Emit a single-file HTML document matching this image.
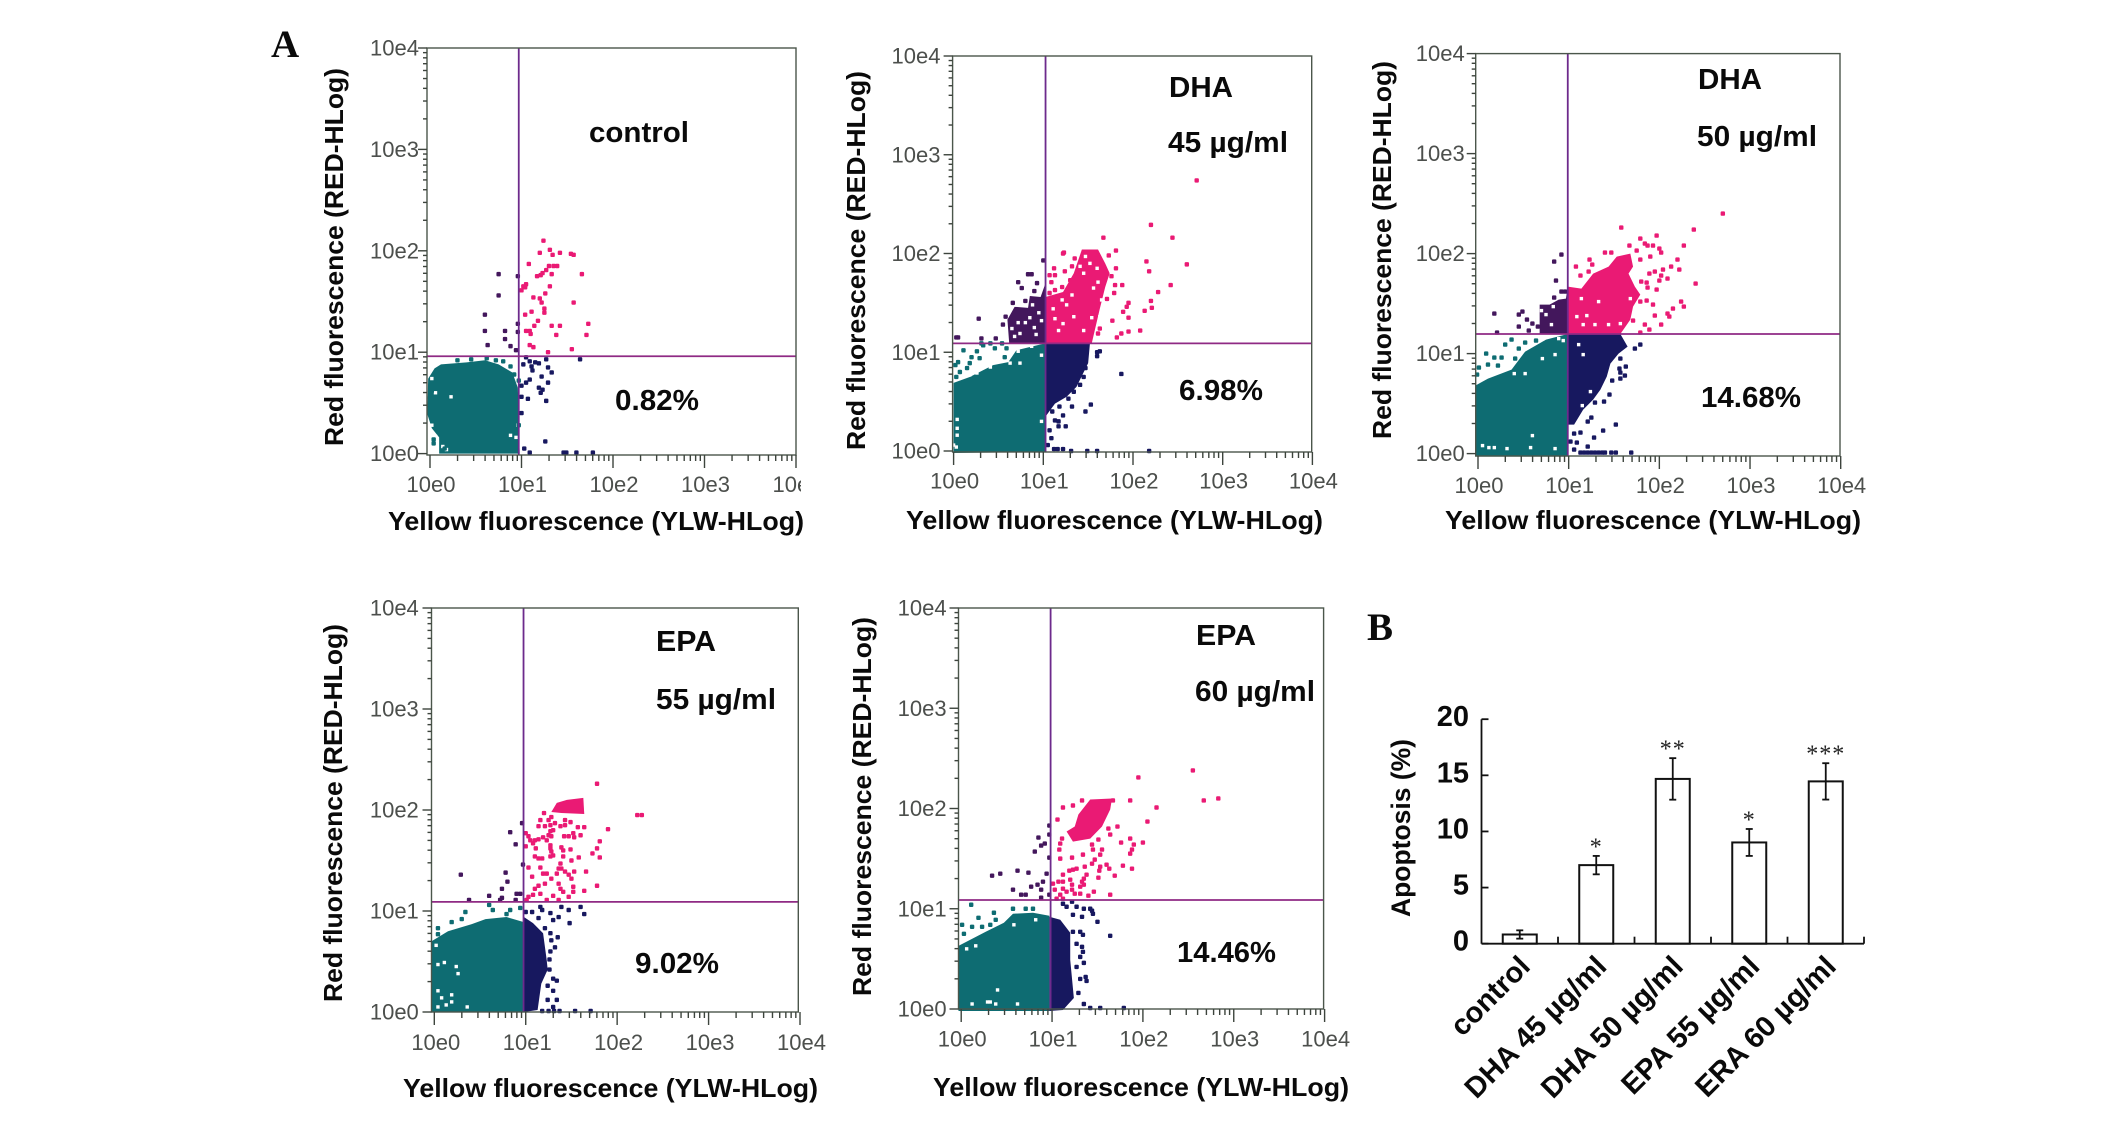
<!DOCTYPE html>
<html lang="en">
<head>
<meta charset="utf-8">
<title>Apoptosis flow cytometry panels</title>
<style>
html,body{margin:0;padding:0;background:#fff;}
svg{display:block;}
text{font-family:"Liberation Sans",sans-serif;}
.title{font-weight:700;fill:#0a0a0a;}
.note{font-weight:700;font-size:29px;fill:#0a0a0a;}
.panel-letter{font-family:"Liberation Serif",serif;font-weight:700;font-size:39px;fill:#0a0a0a;}
.tick{font-size:22px;fill:#4c4f4c;}
.barval{font-weight:700;font-size:29px;fill:#0a0a0a;}
</style>
</head>
<body>
<svg id="figure" xmlns="http://www.w3.org/2000/svg" width="2126" height="1131" viewBox="0 0 2126 1131">
<rect width="2126" height="1131" fill="#fff"/>
<defs><clipPath id="clip-p1-xlabels"><rect x="0" y="0" width="801" height="1131"/></clipPath></defs>
<text class="panel-letter" x="271" y="57">A</text>
<text class="panel-letter" x="1367" y="640">B</text>

<g id="p1"></g>
<text class="title" font-size="26" transform="translate(343,446) rotate(-90)" textLength="378" lengthAdjust="spacingAndGlyphs">Red fluorescence (RED-HLog)</text>
<text class="title" font-size="26" x="388" y="530" textLength="416" lengthAdjust="spacingAndGlyphs">Yellow fluorescence (YLW-HLog)</text>
<text class="note" x="589" y="142" textLength="100" lengthAdjust="spacingAndGlyphs">control</text>
<text class="note" x="615" y="410" textLength="84" lengthAdjust="spacingAndGlyphs">0.82%</text>

<g id="p2"></g>
<text class="title" font-size="26" transform="translate(865,450) rotate(-90)" textLength="379" lengthAdjust="spacingAndGlyphs">Red fluorescence (RED-HLog)</text>
<text class="title" font-size="26" x="906" y="529" textLength="417" lengthAdjust="spacingAndGlyphs">Yellow fluorescence (YLW-HLog)</text>
<text class="note" x="1169" y="97" textLength="64" lengthAdjust="spacingAndGlyphs">DHA</text>
<text class="note" x="1168" y="152" textLength="120" lengthAdjust="spacingAndGlyphs">45 µg/ml</text>
<text class="note" x="1179" y="400" textLength="84" lengthAdjust="spacingAndGlyphs">6.98%</text>

<g id="p3"></g>
<text class="title" font-size="26" transform="translate(1391,439) rotate(-90)" textLength="378" lengthAdjust="spacingAndGlyphs">Red fluorescence (RED-HLog)</text>
<text class="title" font-size="26" x="1445" y="529" textLength="416" lengthAdjust="spacingAndGlyphs">Yellow fluorescence (YLW-HLog)</text>
<text class="note" x="1698" y="89" textLength="64" lengthAdjust="spacingAndGlyphs">DHA</text>
<text class="note" x="1697" y="146" textLength="120" lengthAdjust="spacingAndGlyphs">50 µg/ml</text>
<text class="note" x="1701" y="407" textLength="100" lengthAdjust="spacingAndGlyphs">14.68%</text>

<g id="p4"></g>
<text class="title" font-size="26" transform="translate(342,1002) rotate(-90)" textLength="378" lengthAdjust="spacingAndGlyphs">Red fluorescence (RED-HLog)</text>
<text class="title" font-size="26" x="403" y="1097" textLength="415" lengthAdjust="spacingAndGlyphs">Yellow fluorescence (YLW-HLog)</text>
<text class="note" x="656" y="651" textLength="60" lengthAdjust="spacingAndGlyphs">EPA</text>
<text class="note" x="656" y="709" textLength="120" lengthAdjust="spacingAndGlyphs">55 µg/ml</text>
<text class="note" x="635" y="973" textLength="84" lengthAdjust="spacingAndGlyphs">9.02%</text>

<g id="p5"></g>
<text class="title" font-size="26" transform="translate(871,996) rotate(-90)" textLength="379" lengthAdjust="spacingAndGlyphs">Red fluorescence (RED-HLog)</text>
<text class="title" font-size="26" x="933" y="1096" textLength="416" lengthAdjust="spacingAndGlyphs">Yellow fluorescence (YLW-HLog)</text>
<text class="note" x="1196" y="645" textLength="60" lengthAdjust="spacingAndGlyphs">EPA</text>
<text class="note" x="1195" y="701" textLength="120" lengthAdjust="spacingAndGlyphs">60 µg/ml</text>
<text class="note" x="1177" y="962" textLength="99" lengthAdjust="spacingAndGlyphs">14.46%</text>

<g id="bars"></g>
<text class="title" font-size="27" transform="translate(1410,917) rotate(-90)" textLength="178" lengthAdjust="spacingAndGlyphs">Apoptosis (%)</text>

<script>
/* Shared flow-cytometry axis labels (values are log10 decades) */
const decades = [0, 1, 2, 3, 4];
const tickLabels = ['10e0', '10e1', '10e2', '10e3', '10e4'];
const minorMultiples = [2, 3, 4, 5, 6, 7, 8, 9];

/* Panel 1: control. Every coordinate is [log10 yellow, log10 red] */
const p1Gate = [0.97, 0.96];
const p1TealOutline = [[0.10,0],[0.10,0.16],[0.02,0.25],[-0.03,0.39],[-0.02,0.74],[0.05,0.84],[0.12,0.88],[0.40,0.90],[0.60,0.92],[0.75,0.88],[0.90,0.80],[0.96,0.65],[0.98,0]];
const p1TealGaps = [[0.23,0.56],[0.06,0.60],[0.02,0.28],[0.06,0.17],[0.18,0.04],[0.14,0.07],[0.88,0.18],[0.94,0.16],[0.02,0.74],[0.96,0.28]];
const p1TealPoints = [[0.04,0.10],[0.02,0.62],[0.30,0.92],[0.45,0.93],[0.62,0.94],[0.72,0.92],[0.80,0.91],[0.88,0.86],[0.92,0.78],[0.97,0.72],[0.97,0.28],[0.04,0.14],[0.0,0.55],[0.16,0.05]];
const p1NavyPoints = [[1.05,0.95],[1.09,0.91],[1.15,0.90],[1.11,0.86],[1.19,0.89],[1.27,0.93],[1.64,0.93],[1.29,0.85],[1.33,0.80],[1.09,0.73],[1.22,0.76],[1.29,0.70],[1.05,0.70],[1.0,0.67],[1.19,0.65],[1.23,0.63],[1.21,0.60],[1.0,0.56],[1.07,0.54],[1.27,0.52],[1.26,0.12],[1.03,0.05],[1.09,0.01],[1.46,0.01],[1.49,0.01],[1.60,0.01],[1.78,0.01],[1.02,0.88],[1.12,0.82],[1.0,0.4]];
const p1PurplePoints = [[0.75,1.77],[0.96,1.75],[0.75,1.56],[0.60,1.37],[0.60,1.21],[0.82,1.21],[0.96,1.28],[0.96,1.20],[0.82,1.13],[0.63,1.07],[0.88,1.06],[0.94,1.02]];
const p1PinkPoints = [[1.24,2.10],[1.20,1.98],[1.31,2.01],[1.34,1.96],[1.42,1.98],[1.54,1.97],[1.57,1.96],[1.08,1.87],[1.30,1.85],[1.35,1.85],[1.39,1.85],[1.27,1.81],[1.23,1.78],[1.21,1.76],[1.17,1.75],[1.33,1.77],[1.66,1.77],[1.05,1.67],[1.02,1.65],[1.04,1.64],[1.00,1.61],[1.31,1.65],[1.26,1.58],[1.13,1.54],[1.20,1.53],[1.22,1.49],[1.57,1.49],[1.25,1.43],[1.25,1.39],[1.04,1.37],[1.11,1.40],[1.18,1.31],[1.33,1.26],[1.42,1.26],[1.73,1.28],[1.14,1.26],[1.05,1.21],[1.09,1.21],[1.10,1.18],[1.38,1.17],[1.71,1.17],[1.09,1.07],[1.13,1.05],[1.29,1.00],[1.55,1.03]];

/* Panel 2: DHA 45 ug/ml */
const p2Gate = [1.025, 1.09];
const p2TealOutline = [[0,-0.02],[0,0.69],[0.18,0.75],[0.44,0.87],[0.61,0.90],[0.70,1.02],[1.02,1.09],[1.02,-0.01]];
const p2TealGaps = [[0.54,0.95],[0.72,1.01],[0.87,1.06],[0.98,0.97],[0.74,0.89],[0.63,0.89],[0.26,0.79],[0.18,0.77],[0.41,0.85],[0.04,0.32],[0.04,0.23],[0.04,0.16],[0.98,0.30],[0,0.06],[0.03,0.04]];
const p2TealPoints = [[0.11,1.02],[0.26,1.01],[0.20,0.95],[0.33,1.07],[0.46,1.04],[0.29,0.94],[0.18,0.89],[0.05,0.90],[0.02,0.87],[0.07,0.80],[0.03,0.75],[0.15,0.84],[0.31,1.09],[0.41,1.09],[0.54,1.09],[0.59,1.04],[0.57,0.95]];
const p2NavyOutline = [[1.025,1.09],[1.52,1.09],[1.50,0.89],[1.37,0.65],[1.26,0.55],[1.13,0.48],[1.025,0.35]];
const p2NavyPoints = [[1.87,0.78],[1.60,1.00],[1.63,1.01],[1.60,0.96],[1.47,0.84],[1.45,0.75],[1.41,0.67],[1.34,0.60],[1.28,0.53],[1.32,0.45],[1.53,0.47],[1.47,0.40],[1.22,0.36],[1.17,0.25],[1.25,0.25],[1.13,0.31],[1.07,0.21],[1.09,0.13],[1.12,0.02],[1.16,0.02],[1.22,0.02],[1.31,0],[1.49,0],[1.60,0],[2.18,0],[1.05,0.06],[1.17,0.30],[1.10,0.40],[1.18,0.45]];
const p2PurpleOutline = [[0.60,1.33],[0.68,1.46],[0.83,1.45],[0.85,1.57],[0.97,1.56],[1.025,1.70],[1.025,1.09],[0.62,1.09]];
const p2PurpleGaps = [[0.74,1.19],[0.68,1.16],[0.80,1.30],[0.90,1.25],[0.95,1.40],[0.72,1.30],[0.85,1.35],[0.92,1.18],[0.98,1.32],[0.65,1.24],[0.88,1.48]];
const p2PurplePoints = [[1.0,1.93],[0.83,1.79],[0.87,1.79],[0.72,1.71],[0.76,1.65],[0.93,1.70],[0.28,1.34],[0.03,1.15],[0.05,1.15],[0.31,1.14],[0.47,1.14],[0.55,1.28],[0.58,1.36],[0.66,1.50],[0.80,1.52],[0.90,1.62]];
const p2PinkOutline = [[1.025,1.09],[1.025,1.56],[1.22,1.61],[1.34,1.80],[1.43,2.04],[1.61,2.04],[1.69,1.90],[1.74,1.80],[1.69,1.66],[1.63,1.44],[1.54,1.09]];
const p2PinkGaps = [[1.47,1.97],[1.52,1.90],[1.45,1.80],[1.61,1.71],[1.56,1.65],[1.65,1.53],[1.32,1.58],[1.34,1.36],[1.54,1.35],[1.22,1.29],[1.13,1.34],[1.60,1.85],[1.17,1.22],[1.26,1.48],[1.41,1.87],[1.21,1.53],[1.11,1.44],[1.45,1.22],[1.63,1.36]];
const p2PinkPoints = [[2.71,2.74],[2.20,2.29],[2.44,2.16],[1.67,2.16],[1.81,2.03],[1.23,2.01],[2.15,1.92],[2.60,1.89],[2.18,1.82],[1.88,1.68],[2.42,1.68],[2.28,1.61],[2.20,1.52],[1.95,1.50],[1.93,1.46],[2.21,1.45],[2.13,1.42],[1.89,1.41],[1.95,1.35],[1.77,1.32],[2.08,1.22],[1.95,1.21],[1.87,1.19],[1.82,1.15],[1.22,2.00],[1.35,1.95],[1.32,1.87],[1.12,1.85],[1.07,1.78],[1.13,1.78],[1.24,1.82],[1.09,1.71],[1.21,1.66],[1.07,1.60],[1.13,1.63],[1.30,1.73],[1.73,1.98],[1.81,1.85],[1.76,1.77],[1.80,1.68],[1.79,1.60],[1.71,1.54],[1.63,1.24],[1.61,1.19]];

/* Panel 3: DHA 50 ug/ml */
const p3Gate = [0.99, 1.196];
const p3TealOutline = [[-0.03,-0.03],[-0.03,0.68],[0.11,0.75],[0.37,0.84],[0.52,1.02],[0.75,1.14],[0.99,1.196],[0.99,-0.03]];
const p3TealGaps = [[0.72,1.15],[0.94,1.13],[0.85,0.99],[0.71,0.95],[0.89,1.15],[0.05,0.08],[0.12,0.06],[0.18,0.06],[0.32,0.05],[0.58,0.06],[0.60,0.18],[0.85,0.05],[0.52,0.80],[0.40,0.80]];
const p3TealPoints = [[0.30,1.09],[0.37,1.14],[0.09,1.0],[0.18,0.96],[0.26,0.96],[0.45,1.05],[0.41,0.95],[0.01,0.86],[0.11,0.89],[0.22,0.88],[0.52,1.11],[0.64,1.13],[-0.01,0.79]];
const p3NavyOutline = [[0.99,1.196],[1.57,1.196],[1.65,1.07],[1.55,1.0],[1.46,0.90],[1.42,0.77],[1.35,0.64],[1.27,0.54],[1.16,0.44],[1.06,0.29],[0.99,0.29]];
const p3NavyGaps = [[1.16,0.99],[1.11,1.09],[1.24,0.62],[1.25,0.40],[1.15,0.48]];
const p3NavyPoints = [[1.79,1.09],[1.73,1.05],[1.57,0.95],[1.63,0.87],[1.56,0.85],[1.57,0.81],[1.62,0.78],[1.57,0.75],[1.48,0.73],[1.45,0.59],[1.39,0.52],[1.29,0.51],[1.52,0.29],[1.38,0.23],[1.28,0.16],[1.21,0.07],[1.06,0.20],[1.13,0.21],[1.21,0.32],[1.25,0.36],[1.13,0.01],[1.17,0.01],[1.21,0.01],[1.25,0.01],[1.29,0.01],[1.33,0.01],[1.37,0.01],[1.40,0.01],[1.47,0.01],[1.52,0.01],[1.69,0.01],[1.09,0.11],[1.06,0.04],[1.02,0.12]];
const p3PurpleOutline = [[0.68,1.196],[0.68,1.49],[0.79,1.49],[0.89,1.54],[0.97,1.55],[0.99,1.67],[0.99,1.196]];
const p3PurpleGaps = [[0.75,1.39],[0.83,1.47],[0.81,1.29],[0.70,1.43]];
const p3PurplePoints = [[0.92,1.99],[0.84,1.92],[0.86,1.73],[0.84,1.56],[0.92,1.62],[0.96,1.62],[0.18,1.40],[0.45,1.39],[0.49,1.42],[0.54,1.34],[0.45,1.27],[0.60,1.30],[0.21,1.21],[0.56,1.23],[0.66,1.27]];
const p3PinkOutline = [[0.99,1.196],[0.99,1.67],[1.14,1.65],[1.27,1.80],[1.44,1.87],[1.53,1.97],[1.68,2.0],[1.71,1.87],[1.66,1.80],[1.73,1.67],[1.79,1.59],[1.71,1.47],[1.68,1.34],[1.57,1.196]];
const p3PinkGaps = [[1.33,1.52],[1.14,1.55],[1.68,1.55],[1.09,1.37],[1.20,1.38],[1.16,1.29],[1.29,1.29],[1.44,1.29],[1.57,1.30]];
const p3PinkPoints = [[1.58,2.26],[2.70,2.40],[2.38,2.24],[1.97,2.18],[1.79,2.15],[1.84,2.10],[1.87,2.08],[1.67,2.08],[2.27,2.08],[1.93,2.08],[2.00,2.05],[2.02,2.01],[1.40,2.01],[1.47,2.01],[1.75,2.03],[1.23,1.94],[1.26,1.89],[1.90,1.97],[2.20,1.94],[1.79,1.94],[1.08,1.87],[2.13,1.87],[2.22,1.84],[1.95,1.82],[2.04,1.84],[1.89,1.80],[1.13,1.78],[1.22,1.82],[2.02,1.78],[2.09,1.75],[2.00,1.73],[1.80,1.72],[1.86,1.71],[1.87,1.66],[2.40,1.70],[1.97,1.64],[1.79,1.52],[1.86,1.53],[1.93,1.49],[2.24,1.52],[2.27,1.47],[2.15,1.45],[1.95,1.38],[2.09,1.40],[2.11,1.37],[1.71,1.33],[2.02,1.29],[1.84,1.29],[1.89,1.24],[1.79,1.21]];

/* Panel 4: EPA 55 ug/ml */
const p4Gate = [0.976, 1.09];
const p4TealOutline = [[-0.03,0],[-0.03,0.70],[0.15,0.80],[0.41,0.87],[0.56,0.92],[0.79,0.94],[0.98,0.89],[0.98,0]];
const p4TealGaps = [[0.04,0.21],[0.08,0.14],[0.13,0.07],[0.04,0.05],[0.19,0.10],[0.36,0.05],[0.11,0.49],[0.24,0.45],[0.04,0.47],[0.26,0.38],[0.02,0.66],[0.19,0.17]];
const p4TealPoints = [[0.04,0.83],[0.19,0.89],[0.34,0.99],[0.60,1.06],[0.64,1.01],[0.83,1.01],[0.94,1.03],[0.30,0.92],[0.79,0.97],[0.04,0.77]];
const p4NavyOutline = [[0.98,0.94],[1.08,0.88],[1.19,0.78],[1.23,0.51],[1.24,0.42],[1.17,0.28],[1.13,0.02],[0.98,0]];
const p4NavyPoints = [[1.16,1.04],[1.18,1.01],[1.07,0.99],[1.27,0.98],[1.39,1.04],[1.47,1.01],[1.60,1.04],[1.64,0.97],[1.36,0.94],[1.30,0.91],[1.14,0.93],[1.48,0.88],[1.21,0.83],[1.27,0.78],[1.35,0.74],[1.28,0.71],[1.32,0.64],[1.27,0.60],[1.0,0.99],[1.26,0.52],[1.26,0.42],[1.30,0.33],[1.34,0.31],[1.24,0.26],[1.30,0.21],[1.34,0.12],[1.24,0.12],[1.30,0.05],[1.37,0.01],[1.54,0.01],[1.71,0.01],[1.18,0.01],[1.25,0.01],[1.31,0.01]];
const p4PurplePoints = [[0.96,1.87],[0.83,1.78],[0.89,1.66],[0.97,1.46],[0.78,1.38],[0.80,1.29],[0.74,1.22],[0.29,1.36],[0.90,1.17],[0.94,1.17],[0.60,1.15],[0.38,1.11],[0.72,1.11],[0.74,1.13],[0.89,1.11]];
const p4PinkOutline = [[1.28,1.98],[1.34,2.07],[1.45,2.10],[1.63,2.12],[1.64,1.96],[1.39,1.97]];
const p4PinkPoints = [[1.78,2.26],[2.22,1.95],[2.27,1.95],[1.20,1.97],[1.16,1.90],[1.25,1.90],[1.28,1.93],[1.43,1.90],[1.49,1.88],[1.14,1.84],[1.21,1.84],[1.27,1.85],[1.32,1.87],[1.38,1.84],[1.43,1.85],[1.57,1.83],[1.64,1.83],[1.90,1.81],[1.27,1.79],[1.30,1.80],[1.25,1.75],[1.19,1.73],[1.14,1.71],[1.10,1.70],[1.23,1.70],[1.28,1.74],[1.42,1.74],[1.47,1.74],[1.52,1.77],[1.60,1.75],[1.53,1.73],[1.03,1.74],[1.00,1.77],[1.05,1.70],[1.00,1.64],[1.08,1.67],[1.11,1.62],[1.27,1.65],[1.27,1.62],[1.28,1.59],[1.39,1.63],[1.41,1.60],[1.49,1.61],[1.81,1.69],[1.78,1.62],[1.73,1.57],[1.81,1.53],[1.10,1.54],[1.14,1.52],[1.18,1.52],[1.27,1.54],[1.30,1.55],[1.41,1.54],[1.50,1.50],[1.58,1.53],[1.38,1.47],[1.36,1.42],[1.39,1.42],[1.43,1.39],[1.47,1.36],[1.50,1.32],[1.53,1.39],[1.16,1.43],[1.03,1.43],[1.66,1.39],[1.19,1.37],[1.23,1.37],[1.34,1.37],[1.28,1.32],[1.07,1.34],[1.21,1.27],[1.14,1.25],[1.10,1.22],[1.36,1.27],[1.38,1.22],[1.41,1.19],[1.52,1.24],[1.52,1.19],[1.64,1.20],[1.78,1.25],[1.16,1.17],[1.08,1.16],[1.03,1.14],[1.30,1.15],[1.23,1.11],[1.47,1.14],[1.36,1.11],[1.01,1.11]];

/* Panel 5: EPA 60 ug/ml */
const p5Gate = [0.984, 1.087];
const p5TealOutline = [[-0.03,-0.02],[-0.03,0.63],[0.27,0.77],[0.47,0.86],[0.57,0.95],[0.79,0.96],[0.97,0.93],[0.97,-0.02]];
const p5TealGaps = [[0.06,0.60],[0.16,0.63],[0.40,0.19],[0.29,0.07],[0.32,0.07],[0.38,0.05],[0.12,0.05],[0.62,0.05],[0.58,0.84],[0.82,0.89]];
const p5TealPoints = [[0.11,1.04],[0.36,0.96],[0.57,1.0],[0.71,1.0],[0.79,1.0],[0.19,0.91],[0.38,0.89],[0.01,0.84],[0.12,0.82],[0.03,0.75],[0.23,0.82],[0.32,0.84]];
const p5NavyOutline = [[0.97,0.92],[1.09,0.89],[1.20,0.76],[1.20,0.49],[1.24,0.11],[1.12,-0.01],[0.97,-0.02]];
const p5NavyPoints = [[1.12,1.05],[1.22,1.07],[1.27,1.02],[1.42,1.0],[1.45,0.95],[1.33,0.92],[1.23,0.94],[1.50,0.87],[1.64,0.73],[1.31,0.77],[1.34,0.74],[1.23,0.77],[1.27,0.65],[1.33,0.62],[1.34,0.57],[1.31,0.52],[1.35,0.46],[1.27,0.42],[1.37,0.32],[1.31,0.30],[1.38,0.28],[1.29,0.16],[1.35,0.05],[1.42,0.01],[1.53,0.01],[1.79,0.01],[1.35,1.0],[1.44,0.98],[1.16,1.02]];
const p5PurplePoints = [[0.97,1.83],[0.97,1.74],[0.85,1.71],[0.92,1.65],[0.88,1.63],[0.81,1.57],[0.97,1.51],[0.94,1.35],[0.90,1.27],[0.84,1.24],[0.88,1.19],[0.77,1.22],[0.97,1.14],[0.88,1.11],[0.62,1.38],[0.74,1.36],[0.43,1.35],[0.34,1.33],[0.57,1.19],[0.66,1.14],[0.71,1.14]];
const p5PinkOutline = [[1.25,1.82],[1.29,1.94],[1.42,2.09],[1.66,2.10],[1.64,1.99],[1.55,1.82],[1.42,1.70],[1.23,1.67],[1.16,1.77]];
const p5PinkPoints = [[2.55,2.38],[1.95,2.31],[2.67,2.08],[2.83,2.10],[2.15,2.01],[1.86,2.08],[1.67,2.08],[1.33,2.08],[1.23,2.03],[1.12,2.01],[2.05,1.87],[1.06,1.89],[1.72,1.82],[1.62,1.80],[1.64,1.74],[1.11,1.70],[1.51,1.69],[1.76,1.66],[1.86,1.70],[2.00,1.66],[1.90,1.64],[1.88,1.59],[1.86,1.55],[1.09,1.65],[1.08,1.59],[1.09,1.50],[1.44,1.64],[1.45,1.59],[1.55,1.59],[1.53,1.54],[1.22,1.51],[1.34,1.54],[1.47,1.49],[1.44,1.45],[1.36,1.42],[1.60,1.44],[1.63,1.40],[1.53,1.42],[1.52,1.38],[1.78,1.43],[1.88,1.40],[1.27,1.40],[1.23,1.39],[1.19,1.38],[1.69,1.33],[1.51,1.31],[1.38,1.34],[1.35,1.30],[1.12,1.34],[1.07,1.27],[1.12,1.27],[1.20,1.29],[1.33,1.27],[1.31,1.22],[1.01,1.25],[1.03,1.19],[1.12,1.20],[1.22,1.24],[1.22,1.19],[1.31,1.15],[1.09,1.14],[1.16,1.17],[1.46,1.17],[1.25,1.15],[1.64,1.14],[1.40,1.13],[1.05,1.10],[1.12,1.10],[1.35,1.24]];

/* Bar chart */
const barCategories = ['control', 'DHA 45 µg/ml', 'DHA 50 µg/ml', 'EPA 55 µg/ml', 'ERA 60 µg/ml'];
const barValues = [0.82, 7.0, 14.68, 9.02, 14.46];
const barErrors = [0.37, 0.82, 1.85, 1.2, 1.62];
const barStars = ['', '*', '**', '*', '***'];
const barTicks = [0, 5, 10, 15, 20];

const NS = 'http://www.w3.org/2000/svg';
const COLORS = {teal:'#0e6c72', navy:'#17185f', purple:'#43175c', pink:'#ea1a74'};

function make(parent, tag, attrs) {
  const el = document.createElementNS(NS, tag);
  for (const k in attrs) el.setAttribute(k, attrs[k]);
  parent.appendChild(el);
  return el;
}

function drawScatter(cfg) {
  const g = document.getElementById(cfg.id);
  const sx = d => cfg.xAxis[0] + d * (cfg.xAxis[1] - cfg.xAxis[0]) / 4;
  const sy = d => cfg.yAxis[0] + d * (cfg.yAxis[1] - cfg.yAxis[0]) / 4;
  const [l, r, t, b] = cfg.frame;

  for (const pop of cfg.populations) {
    if (pop.outline) {
      const poly = make(g, 'polygon', {points: pop.outline.map(p => sx(p[0]) + ',' + sy(p[1])).join(' '), fill: COLORS[pop.color]});
      
      
    }
    for (const p of (pop.gaps || [])) {
      const gap = make(g, 'rect', {x: sx(p[0]) - 1.7, y: sy(p[1]) - 1.7, width: 3.4, height: 3.4, fill: '#fff'});
      
      
    }
    for (const p of pop.points) {
      const dot = make(g, 'rect', {x: sx(p[0]) - 2.2, y: sy(p[1]) - 2.2, width: 4.4, height: 4.4, rx: 1.1, fill: COLORS[pop.color]});
      
      
    }
  }

  const gateV = make(g, 'line', {x1: sx(cfg.gate[0]), x2: sx(cfg.gate[0]), y1: t, y2: b, stroke: '#6d2a8c', 'stroke-width': 1.8});
  
  
  const gateH = make(g, 'line', {x1: l, x2: r, y1: sy(cfg.gate[1]), y2: sy(cfg.gate[1]), stroke: '#8f2a84', 'stroke-width': 1.8});
  
  

  const frame = make(g, 'rect', {x: l, y: t, width: r - l, height: b - t, fill: 'none', stroke: '#4b564b', 'stroke-width': 1.4});
  
  

  const ticks = make(g, 'g', {stroke: '#3d443d', 'stroke-width': 1.4, fill: 'none'});
  
  
  decades.forEach(d => {
    make(ticks, 'line', {x1: sx(d), x2: sx(d), y1: b, y2: b + 13});
    make(ticks, 'line', {x1: l - 9, x2: l, y1: sy(d), y2: sy(d)});
    if (d < 4) {
      minorMultiples.forEach(m => {
        const v = d + Math.log10(m);
        make(ticks, 'line', {x1: sx(v), x2: sx(v), y1: b, y2: b + 6});
        make(ticks, 'line', {x1: l - 4, x2: l, y1: sy(v), y2: sy(v)});
      });
    }
  });

  const xLabels = make(g, 'g', {});
  
  
  if (cfg.xClip) xLabels.setAttribute('clip-path', cfg.xClip);
  decades.forEach((d, i) => {
    const lab = make(xLabels, 'text', {class: 'tick', x: sx(d) + cfg.xLabelShift, y: cfg.xLabelY, 'text-anchor': 'middle'});
    lab.textContent = tickLabels[i];
  });
  const yLabels = make(g, 'g', {});
  
  
  decades.forEach((d, i) => {
    const lab = make(yLabels, 'text', {class: 'tick', x: cfg.yLabelX, y: sy(d) + 7.5, 'text-anchor': 'end'});
    lab.textContent = tickLabels[i];
  });
}

drawScatter({id:'p1', key:'control', frame:[427,796,48,455], xAxis:[430,796], yAxis:[453.6,48], gate:p1Gate, xLabelY:492, xLabelShift:1, yLabelX:419, xClip:'url(#clip-p1-xlabels)',
  populations:[{color:'teal',outline:p1TealOutline,gaps:p1TealGaps,points:p1TealPoints},{color:'navy',points:p1NavyPoints},{color:'purple',points:p1PurplePoints},{color:'pink',points:p1PinkPoints}]});
drawScatter({id:'p2', key:'dha-45', frame:[952.6,1311.7,56,452], xAxis:[953.6,1312.4], yAxis:[451,56], gate:p2Gate, xLabelY:488.5, xLabelShift:1, yLabelX:940.5,
  populations:[{color:'teal',outline:p2TealOutline,gaps:p2TealGaps,points:p2TealPoints},{color:'navy',outline:p2NavyOutline,points:p2NavyPoints},{color:'purple',outline:p2PurpleOutline,gaps:p2PurpleGaps,points:p2PurplePoints},{color:'pink',outline:p2PinkOutline,gaps:p2PinkGaps,points:p2PinkPoints}]});
drawScatter({id:'p3', key:'dha-50', frame:[1475.7,1840,53.6,456], xAxis:[1478,1840.7], yAxis:[453.6,53.6], gate:p3Gate, xLabelY:493, xLabelShift:1, yLabelX:1464.7,
  populations:[{color:'teal',outline:p3TealOutline,gaps:p3TealGaps,points:p3TealPoints},{color:'navy',outline:p3NavyOutline,gaps:p3NavyGaps,points:p3NavyPoints},{color:'purple',outline:p3PurpleOutline,gaps:p3PurpleGaps,points:p3PurplePoints},{color:'pink',outline:p3PinkOutline,gaps:p3PinkGaps,points:p3PinkPoints}]});
drawScatter({id:'p4', key:'epa-55', frame:[431.5,798.3,608,1012], xAxis:[434.3,800], yAxis:[1012,608], gate:p4Gate, xLabelY:1050, xLabelShift:1.5, yLabelX:418.8,
  populations:[{color:'teal',outline:p4TealOutline,gaps:p4TealGaps,points:p4TealPoints},{color:'navy',outline:p4NavyOutline,points:p4NavyPoints},{color:'purple',points:p4PurplePoints},{color:'pink',outline:p4PinkOutline,points:p4PinkPoints}]});
drawScatter({id:'p5', key:'epa-60', frame:[958.5,1323.6,608,1009], xAxis:[961.2,1324.6], yAxis:[1009,608], gate:p5Gate, xLabelY:1046.5, xLabelShift:1, yLabelX:946.6,
  populations:[{color:'teal',outline:p5TealOutline,gaps:p5TealGaps,points:p5TealPoints},{color:'navy',outline:p5NavyOutline,points:p5NavyPoints},{color:'purple',points:p5PurplePoints},{color:'pink',outline:p5PinkOutline,points:p5PinkPoints}]});

(function drawBars() {
  const g = document.getElementById('bars');
  const X0 = 1481.5, BAND = 76.5, Y0 = 943.7, YTOP = 719.2, MAXV = 20, BARW = 34;
  const sy = v => Y0 - v * (Y0 - YTOP) / MAXV;
  const cx = i => X0 + (i + 0.5) * BAND;

  barCategories.forEach((name, i) => {
    const bar = make(g, 'rect', {x: cx(i) - BARW / 2, y: sy(barValues[i]), width: BARW, height: Y0 - sy(barValues[i]), fill: '#fff', stroke: '#111', 'stroke-width': 2});
    
    

    const err = make(g, 'g', {stroke: '#111', 'stroke-width': 1.8});
    
    
    const hi = sy(barValues[i] + barErrors[i]), lo = sy(barValues[i] - barErrors[i]);
    make(err, 'line', {x1: cx(i), x2: cx(i), y1: hi, y2: lo});
    make(err, 'line', {x1: cx(i) - 3.5, x2: cx(i) + 3.5, y1: hi, y2: hi});
    make(err, 'line', {x1: cx(i) - 3.5, x2: cx(i) + 3.5, y1: lo, y2: lo});

    if (barStars[i]) {
      const star = make(g, 'text', {x: cx(i), y: hi - 1.5, 'text-anchor': 'middle', 'font-size': 24, fill: '#222', style: 'font-family:"Liberation Serif",serif;letter-spacing:1px'});
      star.textContent = barStars[i];
      
      
    }

    const ex = cx(i) + 12, ey = 968;
    const lab = make(g, 'text', {class: 'barval', x: ex, y: ey, 'text-anchor': 'end', transform: 'rotate(-45 ' + ex + ' ' + ey + ')'});
    lab.textContent = name;
    
    
  });

  const axes = make(g, 'g', {stroke: '#111', 'stroke-width': 1.8, fill: 'none'});
  
  
  make(axes, 'line', {x1: X0, x2: X0, y1: YTOP, y2: Y0});
  make(axes, 'line', {x1: X0, x2: X0 + barCategories.length * BAND, y1: Y0, y2: Y0});
  barCategories.forEach((name, i) => {
    const tx = X0 + (i + 1) * BAND;
    make(axes, 'line', {x1: tx, x2: tx, y1: Y0, y2: Y0 - 7});
  });
  barTicks.forEach(v => {
    make(axes, 'line', {x1: X0, x2: X0 + 7, y1: sy(v), y2: sy(v)});
    const lab = make(g, 'text', {class: 'barval', x: 1469, y: sy(v) + 7, 'text-anchor': 'end'});
    lab.textContent = v;
    
    
  });
})();
</script>
</svg>
</body>
</html>
